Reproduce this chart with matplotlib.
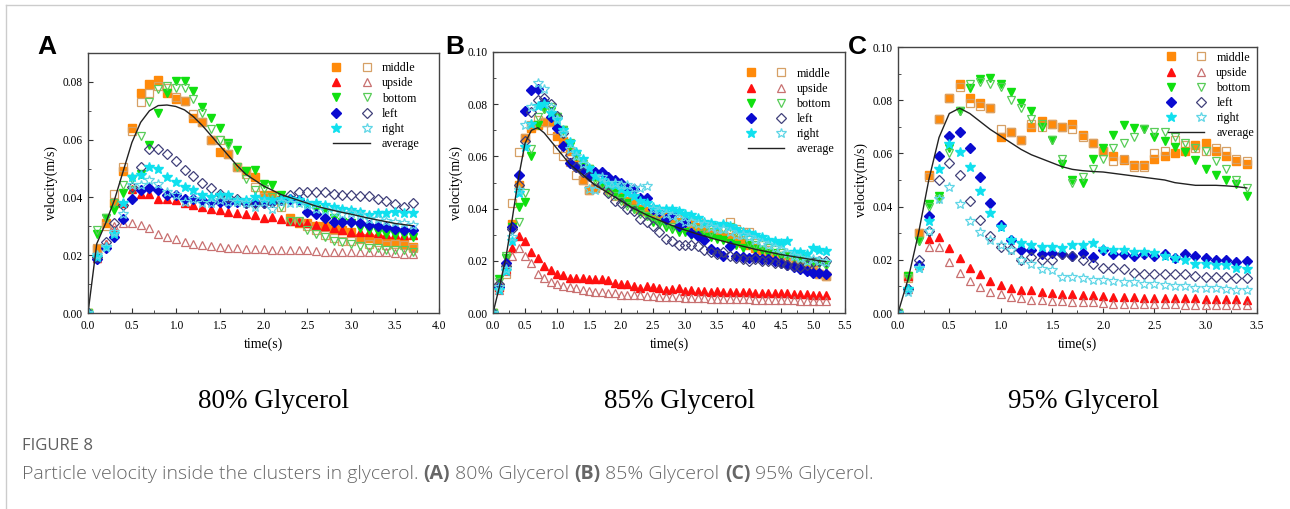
import matplotlib

matplotlib.use("Agg")
import matplotlib.pyplot as plt
import numpy as np
from matplotlib.legend_handler import HandlerTuple
from matplotlib.lines import Line2D
from matplotlib.ticker import FormatStrFormatter, MultipleLocator

# ------------------------------------------------------------------ data
# sampling grid of the tracking: one frame every 0.1 s
T_A = np.round(np.arange(38) * 0.1, 1)
T_B = np.round(np.arange(53) * 0.1, 1)
T_C = np.round(np.arange(35) * 0.1, 1)

# (A) 80% glycerol, filled = _f, open = _o
A_mid_f = [0, .022, .031, .038, .049, .064, .076, .0794, .0806, .076,
           .074, .0735, .0675, .066, .060, .0557, .055, .0505, .049, .047,
           .041, .041, .039, .033, .031, .031, .030, .030, .029, .0287,
           .028, .026, .026, .0255, .025, .0247, .024, .023]
A_mid_o = [0, .0224, .030, .0413, .0505, .063, .073, .076, .0786, .078,
           .0746, .0735, .0689, .066, .060, .060, .055, .0505, .048, .0436,
           .040, .040, .0367, .032, .0316, .030, .0287, .027, .026, .025,
           .025, .0255, .024, .0245, .0235, .024, .0235, .0224]
A_up_f = [0, .019, .024, .0287, .038, .043, .0413, .0413, .0396, .0396,
          .039, .038, .0373, .0367, .036, .0356, .035, .0347, .0344, .034,
          .033, .0333, .0327, .032, .0316, .031, .0304, .030, .0293, .0287,
          .028, .028, .028, .0277, .0275, .0272, .027, .027]
A_up_o = [0, .019, .024, .030, .031, .031, .0304, .0293, .0275, .0264,
          .0255, .0247, .024, .0235, .0232, .023, .0226, .0224, .0222, .022,
          .022, .0218, .0218, .0218, .0218, .0218, .0215, .0212, .0212, .0212,
          .0212, .021, .021, .021, .021, .0208, .0205, .0205]
A_bot_f = [0, .0275, .033, .0356, .0415, .0465, .048, .058, .0694, .0763,
           .0803, .0803, .077, .0712, .0674, .064, .059, .0565, .049, .0494,
           .0448, .0442, .0407, .039, .0385, .0367, .036, .035, .033, .0316,
           .031, .0293, .0287, .028, .0275, .027, .027, .0264]
A_bot_o = [0, .0287, .033, .038, .0442, .0425, .0614, .073, .0775, .0786,
           .078, .078, .074, .0694, .0637, .060, .058, .0505, .0465, .0425,
           .043, .040, .0367, .032, .032, .0287, .0273, .0264, .025, .0247,
           .024, .0232, .0224, .0224, .0218, .0218, .0218, .0212]
A_left_f = [0, .0186, .0224, .0264, .0327, .0396, .0425, .0434, .0425, .041,
            .0407, .0396, .0396, .039, .0385, .0385, .038, .0385, .038, .0385,
            .038, .0385, .039, .0396, .039, .035, .0344, .033, .0316, .0316,
            .0316, .031, .0304, .030, .0297, .029, .0289, .0287]
A_left_o = [0, .0195, .0247, .031, .0373, .0436, .0505, .0568, .0568, .055,
            .0525, .0494, .0474, .045, .0433, .0413, .040, .0396, .038, .038,
            .038, .0385, .0396, .0407, .042, .042, .042, .0418, .0413, .041,
            .0407, .0405, .0405, .0396, .0387, .0376, .0367, .038]
A_right_f = [0, .0195, .023, .0275, .038, .047, .0476, .0505, .050, .047,
             .0453, .0436, .0425, .0407, .040, .0407, .0407, .039, .039, .040,
             .0396, .0392, .0396, .0396, .039, .038, .038, .0373, .0367, .036,
             .0356, .035, .034, .0345, .0345, .035, .0345, .0347]
A_right_o = [0, .020, .023, .028, .0344, .0442, .0442, .046, .0448, .042,
             .0407, .0385, .0396, .038, .038, .039, .0385, .0385, .038, .0367,
             .0385, .036, .0385, .038, .038, .0373, .036, .0356, .035, .0344,
             .0347, .034, .0327, .0327, .032, .0316, .0312, .0304]
A_avg = [0, .024, .031, .039, .049, .059, .066, .070, .0718, .072,
         .0715, .0703, .068, .065, .0615, .058, .0545, .051, .048, .046,
         .044, .0425, .041, .040, .039, .038, .037, .0362, .0355, .0348,
         .0342, .0335, .0328, .0322, .0316, .031, .0306, .0302]

# (B) 85% glycerol
B_mid_f = [0,
           .010, .018, .034, .049, .067, .071, .072, .073, .073, .068,
           .066, .062, .057, .051, .047, .048, .050, .047, .048, .046,
           .043, .042, .040, .039, .038, .037, .037, .036, .035, .035,
           .034, .033, .032, .031, .031, .030, .029, .028, .027, .026,
           .025, .024, .023, .022, .022, .021, .020, .019, .018, .017,
           .015, .014]
B_mid_o = [0,
           .010, .015, .042, .0615, .067, .072, .074, .073, .070, .063,
           .060, .058, .053, .051, .047, .048, .049, .047, .045, .045,
           .044, .042, .041, .040, .039, .038, .037, .036, .036, .036,
           .035, .035, .033, .032, .032, .033, .035, .032, .031, .031,
           .027, .026, .024, .022, .021, .020, .019, .019, .018, .016,
           .015, .014]
B_up_f = [0,
          .010, .017, .025, .0295, .0275, .0235, .021, .018, .0165, .015,
          .0145, .0135, .0135, .0135, .013, .013, .013, .0125, .0115, .011,
          .011, .0105, .0095, .0102, .010, .0095, .009, .0092, .0095, .0085,
          .0088, .0085, .0085, .0082, .0085, .008, .0082, .008, .008, .008,
          .0078, .0078, .0075, .0078, .0075, .0075, .0072, .0072, .0072, .007,
          .007, .0068]
B_up_o = [0,
          .009, .016, .022, .025, .022, .019, .015, .0135, .012, .011,
          .0105, .0098, .0095, .009, .0085, .008, .008, .0075, .0075, .007,
          .007, .0068, .0068, .0065, .0065, .0063, .006, .006, .0062, .0058,
          .0058, .0057, .0057, .0055, .0055, .0053, .0053, .0055, .0052, .0052,
          .005, .005, .005, .0048, .0048, .0048, .0048, .0047, .0047, .0046,
          .0046, .0045]
B_bot_f = [0,
           .013, .021, .033, .0405, .0425, .060, .072, .078, .0775, .075,
           .070, .064, .060, .056, .055, .052, .050, .048, .046, .044,
           .042, .040, .039, .037, .035, .034, .033, .032, .031, .031,
           .030, .030, .029, .029, .0285, .028, .027, .026, .025, .026,
           .0245, .024, .023, .023, .022, .022, .021, .021, .020, .0195,
           .019, .0185]
B_bot_o = [0,
           .012, .022, .032, .035, .046, .063, .075, .078, .079, .075,
           .070, .065, .061, .057, .055, .051, .049, .046, .045, .043,
           .041, .040, .038, .037, .036, .035, .034, .033, .034, .035,
           .033, .032, .032, .031, .033, .032, .033, .031, .030, .027,
           .026, .026, .025, .024, .023, .022, .021, .020, .020, .019,
           .019, .018]
B_left_f = [0,
            .010, .019, .033, .053, .0775, .0855, .086, .081, .075, .071,
            .064, .0575, .056, .055, .053, .054, .054, .052, .051, .050,
            .048, .0475, .044, .044, .040, .039, .036, .038, .0335, .035,
            .0305, .0295, .028, .0245, .0235, .022, .0255, .022, .0215, .021,
            .0215, .0205, .0205, .020, .019, .0185, .0175, .017, .016, .0155,
            .0152, .015]
B_left_o = [0,
            .011, .018, .032, .049, .066, .077, .0815, .0825, .080, .0755,
            .069, .0605, .056, .054, .0525, .0505, .0495, .046, .043, .042,
            .040, .039, .036, .035, .0335, .031, .0285, .0275, .026, .026,
            .026, .0255, .024, .0235, .0225, .0235, .022, .021, .0205, .020,
            .0205, .020, .020, .019, .019, .0185, .018, .0175, .0185, .0195,
            .020, .020]
B_right_f = [0,
             .009, .016, .0275, .046, .0635, .0725, .0795, .080, .0765, .074,
             .070, .0655, .0615, .059, .0555, .0525, .051, .0495, .049, .0475,
             .046, .045, .043, .042, .0405, .040, .040, .040, .039, .038,
             .0375, .0365, .035, .0345, .0335, .034, .0335, .032, .031, .0305,
             .030, .029, .028, .0275, .027, .0275, .0235, .0235, .0225, .025,
             .024, .0238]
B_right_o = [0,
             .010, .017, .029, .047, .072, .079, .088, .086, .079, .0745,
             .069, .063, .060, .057, .0475, .047, .052, .050, .050, .049,
             .049, .048, .048, .0485, .040, .039, .038, .037, .036, .035,
             .035, .034, .034, .033, .032, .032, .031, .030, .030, .029,
             .028, .027, .026, .025, .024, .023, .022, .021, .020, .0205,
             .020, .0195]
B_avg = [0,
         .010, .021, .036, .052, .065, .070, .071, .069, .066, .063,
         .060, .057, .055, .053, .051, .049, .0475, .046, .0445, .043,
         .0415, .040, .0388, .0376, .0365, .0355, .0345, .0335, .0326, .0318,
         .031, .0302, .0295, .0288, .0281, .0275, .0268, .0262, .0256, .025,
         .0244, .0239, .0234, .0229, .0224, .022, .0216, .0212, .0208, .0204,
         .020, .0197]

# (C) 95% glycerol
C_mid_f = [0,
           .014, .030, .052, .073, .081, .086, .081, .079, .077, .066,
           .068, .065, .070, .072, .071, .070, .071, .067, .064, .061,
           .059, .0575, .0556, .0556, .058, .059, .060, .061, .063, .064,
           .061, .059, .057, .056]
C_mid_o = [0,
           .013, .030, .051, .073, .081, .085, .079, .078, .077, .069,
           .068, .065, .071, .070, .071, .070, .069, .066, .064, .061,
           .057, .058, .055, .055, .060, .061, .065, .063, .062, .061,
           .062, .061, .058, .057]
C_up_f = [0,
          .014, .018, .028, .0285, .0245, .0205, .017, .0145, .012, .0105,
          .0095, .0088, .0085, .008, .0075, .0072, .007, .0068, .0066, .0065,
          .006, .006, .006, .0058, .0058, .0058, .0055, .0055, .0055, .0053,
          .0052, .0052, .0052, .005]
C_up_o = [0,
          .009, .018, .025, .025, .019, .015, .012, .0098, .008, .007,
          .006, .0055, .005, .0048, .0045, .0045, .004, .004, .004, .0038,
          .0035, .0035, .0033, .0033, .0033, .0032, .0032, .003, .003, .003,
          .003, .003, .003, .003]
C_bot_f = [0,
           .014, .027, .041, .044, .062, .076, .0845, .088, .0885, .086,
           .083, .079, .076, .070, .065, .056, .050, .049, .058, .062,
           .067, .0705, .0695, .069, .066, .0645, .0625, .0605, .0575, .054,
           .052, .050, .0485, .044]
C_bot_o = [0,
           .013, .027, .040, .043, .060, .076, .086, .087, .086, .085,
           .080, .077, .073, .071, .065, .058, .049, .051, .054, .058,
           .062, .064, .066, .069, .068, .068, .066, .064, .062, .061,
           .057, .054, .050, .047]
C_left_f = [0,
            .009, .018, .0365, .059, .0665, .068, .062, .051, .0415, .033,
            .0275, .0235, .0235, .022, .0225, .022, .0215, .0225, .021, .0235,
            .022, .022, .0215, .022, .0215, .022, .0205, .022, .0215, .0205,
            .020, .020, .019, .0195]
C_left_o = [0,
            .009, .020, .031, .050, .0565, .052, .042, .035, .029, .025,
            .024, .020, .021, .020, .020, .022, .0215, .020, .0185, .017,
            .017, .0165, .015, .0145, .0145, .0145, .0145, .0145, .014, .0135,
            .0135, .0135, .013, .013]
C_right_f = [0,
             .009, .017, .0345, .054, .0635, .0605, .055, .046, .0375, .0325,
             .0275, .0265, .0255, .025, .025, .0245, .0255, .0255, .0265, .024,
             .0235, .0235, .023, .023, .0225, .0215, .0205, .020, .0185, .0185,
             .018, .018, .017, .0165]
C_right_o = [0,
             .008, .017, .031, .043, .0475, .041, .0345, .0305, .0275, .0255,
             .0235, .020, .0185, .0165, .016, .0135, .0135, .013, .0125, .0125,
             .012, .0115, .0115, .011, .011, .0105, .010, .010, .0095, .0095,
             .0095, .009, .0085, .0085]
C_avg = [0,
         .013, .030, .050, .066, .075, .077, .075, .072, .069, .0665,
         .064, .0615, .0595, .058, .0565, .055, .054, .0535, .0532, .053,
         .0525, .052, .0515, .051, .0505, .050, .049, .0485, .048, .048,
         .048, .0478, .0475, .047]

LABELS = ["middle", "upside", "bottom", "left", "right"]
PANEL_TAGS = ["A", "B", "C"]
CAPTIONS = ["80% Glycerol", "85% Glycerol", "95% Glycerol"]
XMAX = [4.0, 5.5, 3.5]
YMAX = [0.09, 0.10, 0.10]

# ----------------------------------------------------------------- style
W, H = 1290, 509
SERIF = "Liberation Serif"
SANS = "Open Sans"
# (marker, filled colour, open colour)
STYLES = [
    ("s", "#ff8a0a", "#d6a066"),
    ("^", "#ff1010", "#c87070"),
    ("v", "#10e010", "#58cc58"),
    ("D", "#0a0ad0", "#40407a"),
    ("*", "#10e0ee", "#60d6e6"),
]
MS = {"s": 5.2, "^": 5.8, "v": 5.8, "D": 4.8, "*": 7.4}

# axes boxes in pixels: left, top, right, bottom
AX_PX = [(88, 53, 439, 313), (493, 52, 845, 313), (898, 47, 1257, 313)]
TAG_PX = [(47, 47), (455, 47), (857, 47)]
CAPTION_X = [274, 679, 1084]
# legend anchor (upper right) in axes fraction
LEG_ANCHOR = [(0.965, 0.992), (0.99, 0.968), (1.012, 1.01)]

panels = [
    (T_A, [(A_mid_f, A_mid_o), (A_up_f, A_up_o), (A_bot_f, A_bot_o),
           (A_left_f, A_left_o), (A_right_f, A_right_o)], A_avg),
    (T_B, [(B_mid_f, B_mid_o), (B_up_f, B_up_o), (B_bot_f, B_bot_o),
           (B_left_f, B_left_o), (B_right_f, B_right_o)], B_avg),
    (T_C, [(C_mid_f, C_mid_o), (C_up_f, C_up_o), (C_bot_f, C_bot_o),
           (C_left_f, C_left_o), (C_right_f, C_right_o)], C_avg),
]

fig = plt.figure(figsize=(W / 100, H / 100), dpi=100)

# page frame of the figure box
fig.add_artist(Line2D([6 / W, 1], [1 - 5 / H] * 2, color="#cccccc", lw=1))
fig.add_artist(Line2D([6 / W] * 2, [0, 1 - 5 / H], color="#cccccc", lw=1))

for k, (t, series, avg) in enumerate(panels):
    l, tp, r, b = AX_PX[k]
    ax = fig.add_axes([l / W, 1 - b / H, (r - l) / W, (b - tp) / H])
    handles = []
    for (vf, vo), (mk, cf, co) in zip(series, STYLES):
        hf, = ax.plot(t, vf, ls="none", marker=mk, ms=MS[mk], mfc=cf, mec=cf)
        ho, = ax.plot(t, vo, ls="none", marker=mk, ms=MS[mk], mfc="none",
                      mec=co, mew=0.9)
        handles.append((hf, ho))
    hl, = ax.plot(t, avg, color="#222222", lw=1.0)

    ax.set_xlim(0, XMAX[k])
    ax.set_ylim(0, YMAX[k])
    ax.xaxis.set_major_locator(MultipleLocator(0.5))
    ax.xaxis.set_minor_locator(MultipleLocator(0.25))
    ax.yaxis.set_major_locator(MultipleLocator(0.02))
    ax.yaxis.set_minor_locator(MultipleLocator(0.01))
    ax.xaxis.set_major_formatter(FormatStrFormatter("%.1f"))
    ax.yaxis.set_major_formatter(FormatStrFormatter("%.2f"))
    ax.tick_params(which="both", direction="in", top=False, right=False,
                   labelsize=8.3, color="#333333")
    ax.tick_params(axis="x", pad=5)
    ax.tick_params(axis="y", pad=4)
    ax.tick_params(which="major", length=3.5)
    ax.tick_params(which="minor", length=2)
    for lab in ax.get_xticklabels() + ax.get_yticklabels():
        lab.set_fontfamily(SERIF)
    for sp in ax.spines.values():
        sp.set_color("#444444")
        sp.set_linewidth(1.0)
    ax.set_xlabel("time(s)", fontfamily=SERIF, fontsize=10, labelpad=4)
    ax.set_ylabel("velocity(m/s)", fontfamily=SERIF, fontsize=10, labelpad=3)

    ax.legend(handles + [hl], LABELS + ["average"],
              handler_map={tuple: HandlerTuple(ndivide=None, pad=2.0)},
              loc="upper right", bbox_to_anchor=LEG_ANCHOR[k],
              frameon=False, handlelength=3.0, handletextpad=1.0,
              labelspacing=0.26, borderaxespad=0.2,
              prop={"family": SERIF, "size": 8.7})

    fig.text(TAG_PX[k][0] / W, 1 - TAG_PX[k][1] / H, PANEL_TAGS[k],
             fontsize=19, fontweight="bold", family="Liberation Sans",
             ha="center", va="center")
    fig.text(CAPTION_X[k] / W, 1 - 402 / H, CAPTIONS[k], fontsize=19.5,
             family=SERIF, ha="center", va="center")

# caption under the figure, scaled so the line ends where the original does
renderer = fig.canvas.get_renderer()
fig.text(22 / W, 1 - 446 / H, "FIGURE 8", fontsize=12, family=SANS,
         color="#5f5f5f", va="center")
parts = [
    ("Particle velocity inside the clusters in glycerol. ", "light"),
    ("(A)", "bold"), (" 80% Glycerol ", "light"),
    ("(B)", "bold"), (" 85% Glycerol ", "light"),
    ("(C)", "bold"), (" 95% Glycerol.", "light"),
]
texts = [fig.text(0, 1 - 474 / H, txt, fontsize=11, family=SANS,
                  fontweight=wt, color="#666666", va="center")
         for txt, wt in parts]
total = sum(tx.get_window_extent(renderer).width for tx in texts)
scale = (872 - 22) / total
xpix = 22.0
for tx in texts:
    tx.set_fontsize(11 * scale)
    tx.set_x(xpix / W)
    xpix += tx.get_window_extent(renderer).width

fig.savefig("out.png", dpi=100)
